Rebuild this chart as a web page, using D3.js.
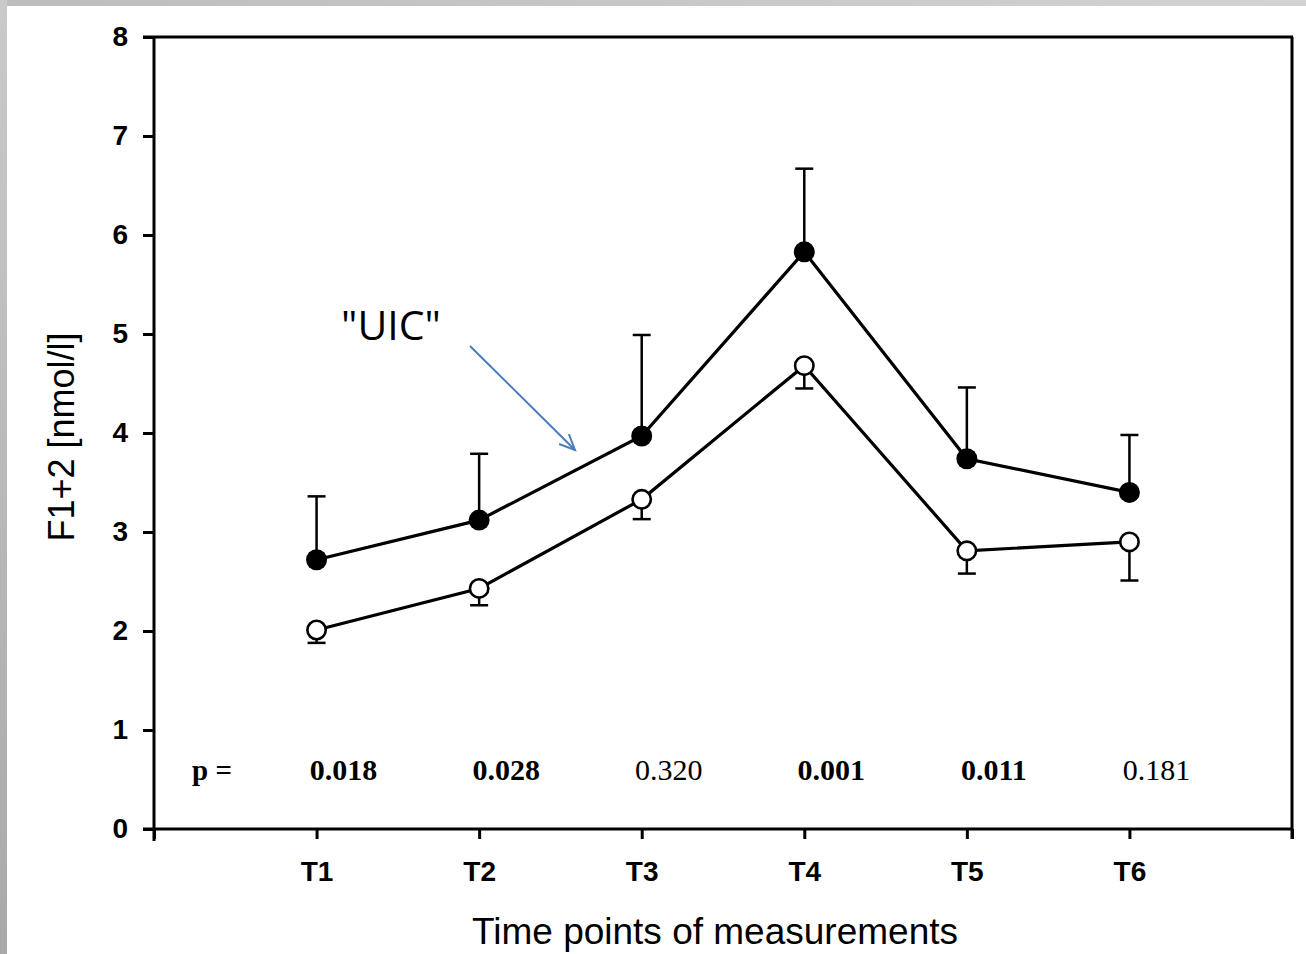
<!DOCTYPE html>
<html>
<head>
<meta charset="utf-8">
<script src="https://cdn.jsdelivr.net/npm/d3@7"></script>
<style>
  html, body { margin: 0; padding: 0; background: #fff; }
  svg { display: block; }
</style>
</head>
<body>
<svg id="chart" width="1306" height="954"></svg>
<script>
// ---- data ----
const categories = ["T1", "T2", "T3", "T4", "T5", "T6"];
const uicMean  = [2.72, 3.12, 3.97, 5.83, 3.74, 3.40];
const uicUpper = [3.36, 3.79, 4.99, 6.67, 4.46, 3.98];
const ctrlMean  = [2.01, 2.43, 3.33, 4.68, 2.81, 2.90];
const ctrlLower = [1.88, 2.26, 3.13, 4.45, 2.58, 2.51];
const pValues = ["0.018", "0.028", "0.320", "0.001", "0.011", "0.181"];
const pBold   = [true, true, false, true, true, false];
const yTicks = [0, 1, 2, 3, 4, 5, 6, 7, 8];
const yTitle = "F1+2 [nmol/l]";
const xTitle = "Time points of measurements";
const annotation = "\"UIC\"";

(function () {
// ---- layout ----
const svg = d3.select("#chart");
const W = 1306, H = 954;

// grey slide edges
const defs = svg.append("defs");
const gl = defs.append("linearGradient").attr("id", "gl").attr("x1", 0).attr("y1", 0).attr("x2", 0).attr("y2", 1);
gl.append("stop").attr("offset", "0%").attr("stop-color", "#cacaca");
gl.append("stop").attr("offset", "100%").attr("stop-color", "#a9a9a9");
const gt = defs.append("linearGradient").attr("id", "gt").attr("x1", 0).attr("y1", 0).attr("x2", 1).attr("y2", 0);
gt.append("stop").attr("offset", "0%").attr("stop-color", "#bdbdbd");
gt.append("stop").attr("offset", "100%").attr("stop-color", "#d2d2d2");
svg.append("rect").attr("x", 0).attr("y", 0).attr("width", W).attr("height", 6).attr("fill", "url(#gt)");
svg.append("rect").attr("x", 0).attr("y", 0).attr("width", 7).attr("height", H).attr("fill", "url(#gl)");

const pL = 154, pR = 1292, pT = 37, pB = 829;

const x = d3.scaleLinear().domain([0, 7]).range([pL, pR]);
const y = d3.scaleLinear().domain([0, 8]).range([pB, pT]);
const xi = i => x(i + 1);

const black = "#000";
const sans = "'Liberation Sans', Arial, sans-serif";
const serif = "'Liberation Serif', 'Times New Roman', serif";

// y axis
const yAxis = svg.append("g").attr("transform", `translate(${pL},0)`)
  .call(d3.axisLeft(y).tickValues(yTicks).tickFormat(d3.format("d")).tickSize(11).tickPadding(15));
yAxis.select(".domain").attr("stroke", black).attr("stroke-width", 3)
  .attr("d", `M0,${pT - 1}V${pB + 12}`);
yAxis.selectAll(".tick line").attr("stroke", black).attr("stroke-width", 3);
yAxis.selectAll(".tick text").attr("fill", black).style("font-family", sans)
  .style("font-weight", "bold").style("font-size", "28px");

// x axis
const xAxis = svg.append("g").attr("transform", `translate(0,${pB})`)
  .call(d3.axisBottom(x).tickValues([0, 1, 2, 3, 4, 5, 6, 7])
    .tickFormat(d => (d >= 1 && d <= 6) ? categories[d - 1] : "")
    .tickSize(10).tickPadding(22));
xAxis.select(".domain").attr("stroke", black).attr("stroke-width", 3)
  .attr("d", `M${pL - 11},0H${pR + 1}`);
xAxis.selectAll(".tick line").attr("stroke", black).attr("stroke-width", 3);
xAxis.selectAll(".tick text").attr("fill", black).style("font-family", sans)
  .style("font-weight", "bold").style("font-size", "28px");

// frame top & right
svg.append("line").attr("x1", pL - 11).attr("x2", pR + 1).attr("y1", pT).attr("y2", pT)
  .attr("stroke", black).attr("stroke-width", 3);
svg.append("line").attr("x1", pR).attr("x2", pR).attr("y1", pT).attr("y2", pB + 10)
  .attr("stroke", black).attr("stroke-width", 3);

// axis titles
svg.append("text").attr("transform", `translate(74,${(pT + pB) / 2 + 4}) rotate(-90)`)
  .attr("text-anchor", "middle").style("font-family", sans).style("font-size", "36px")
  .attr("fill", black).text(yTitle);
svg.append("text").attr("x", 715).attr("y", 944).attr("text-anchor", "middle")
  .style("font-family", sans).style("font-size", "37px").attr("fill", black).text(xTitle);

// p values
svg.append("text").attr("x", 212).attr("y", 780).attr("text-anchor", "middle")
  .style("font-family", serif).style("font-size", "29px").style("font-weight", "bold")
  .attr("fill", black).text("p =");
svg.selectAll("text.pval").data(pValues).join("text").attr("class", "pval")
  .attr("x", (d, i) => xi(i) + 27).attr("y", 780).attr("text-anchor", "middle")
  .style("font-family", serif).style("font-size", "30px")
  .style("font-weight", (d, i) => pBold[i] ? "bold" : "normal")
  .attr("fill", black).text(d => d);

// error bars
const cap = 9;
const eb = svg.append("g").attr("stroke", black).attr("stroke-width", 2.5).attr("fill", "none");
uicMean.forEach((m, i) => {
  eb.append("line").attr("x1", xi(i)).attr("x2", xi(i)).attr("y1", y(m)).attr("y2", y(uicUpper[i]));
  eb.append("line").attr("x1", xi(i) - cap).attr("x2", xi(i) + cap).attr("y1", y(uicUpper[i])).attr("y2", y(uicUpper[i]));
});
ctrlMean.forEach((m, i) => {
  eb.append("line").attr("x1", xi(i)).attr("x2", xi(i)).attr("y1", y(m)).attr("y2", y(ctrlLower[i]));
  eb.append("line").attr("x1", xi(i) - cap).attr("x2", xi(i) + cap).attr("y1", y(ctrlLower[i])).attr("y2", y(ctrlLower[i]));
});

// lines
const line = d3.line().x((d, i) => xi(i)).y(d => y(d));
svg.append("path").datum(uicMean).attr("d", line).attr("fill", "none").attr("stroke", black).attr("stroke-width", 3.2);
svg.append("path").datum(ctrlMean).attr("d", line).attr("fill", "none").attr("stroke", black).attr("stroke-width", 3.2);

// markers
svg.selectAll("circle.uic").data(uicMean).join("circle").attr("class", "uic")
  .attr("cx", (d, i) => xi(i)).attr("cy", d => y(d)).attr("r", 10.5).attr("fill", black);
svg.selectAll("circle.ctrl").data(ctrlMean).join("circle").attr("class", "ctrl")
  .attr("cx", (d, i) => xi(i)).attr("cy", d => y(d)).attr("r", 9.2).attr("fill", "#fff")
  .attr("stroke", black).attr("stroke-width", 2.6);

// annotation
svg.append("text").attr("x", 391).attr("y", 340).attr("text-anchor", "middle")
  .style("font-family", "'Open Sans', sans-serif").style("font-size", "41px")
  .attr("fill", black).text(annotation);
const blue = "#4a7ebb";
const ax1 = 470, ay1 = 346, ax2 = 575, ay2 = 450;
svg.append("line").attr("x1", ax1).attr("y1", ay1).attr("x2", ax2).attr("y2", ay2)
  .attr("stroke", blue).attr("stroke-width", 2);
const ang = Math.atan2(ay2 - ay1, ax2 - ax1);
const hl = 17, ha = 0.42;
svg.append("path")
  .attr("d", `M${ax2 - hl * Math.cos(ang - ha)},${ay2 - hl * Math.sin(ang - ha)}L${ax2},${ay2}L${ax2 - hl * Math.cos(ang + ha)},${ay2 - hl * Math.sin(ang + ha)}`)
  .attr("fill", "none").attr("stroke", blue).attr("stroke-width", 2);
})();
</script>
</body>
</html>
